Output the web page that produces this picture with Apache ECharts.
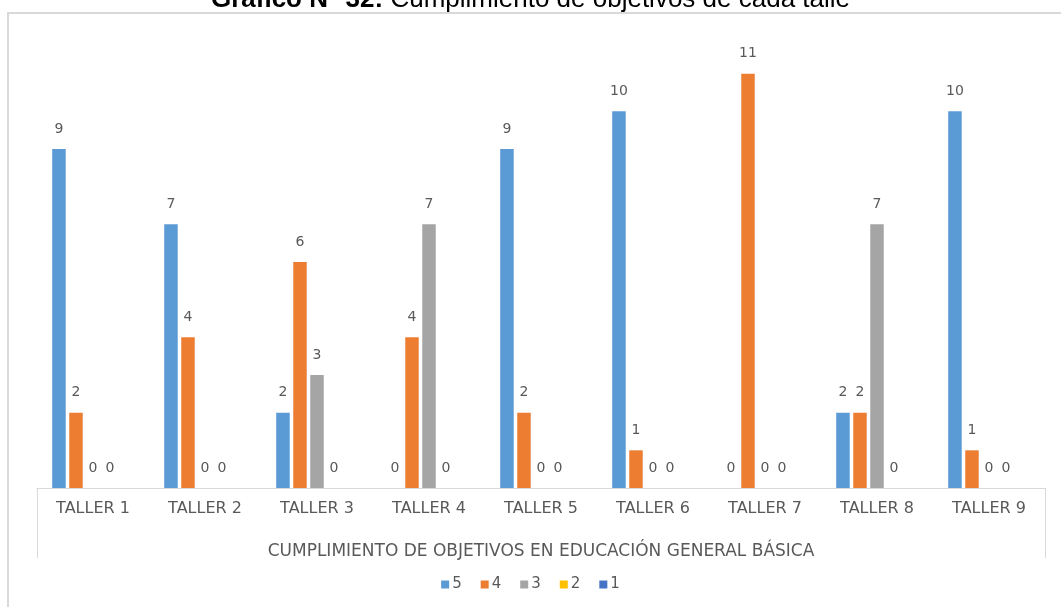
<!DOCTYPE html>
<html>
<head>
<meta charset="utf-8">
<title>Cumplimiento de objetivos de cada taller</title>
<script src="https://cdn.jsdelivr.net/npm/echarts@6/dist/echarts.min.js"></script>
<style>
  html, body { margin: 0; padding: 0; background: #fff; }
  #chart { width: 1061px; height: 607px; }
</style>
</head>
<body>
<div id="chart"></div>
<script>
// categorías (talleres)
const talleres = ['TALLER 1', 'TALLER 2', 'TALLER 3', 'TALLER 4', 'TALLER 5', 'TALLER 6', 'TALLER 7', 'TALLER 8', 'TALLER 9'];

// valores por nivel de cumplimiento
const nivel5 = [9, 7, 2, 0, 9, 10, 0, 2, 10];
const nivel4 = [2, 4, 6, 4, 2, 1, 11, 2, 1];
const nivel3 = [0, 0, 3, 7, 0, 0, 0, 7, 0];
const nivel2 = [0, 0, 0, 0, 0, 0, 0, 0, 0];
const nivel1 = [0, 0, 0, 0, 0, 0, 0, 0, 0];

const seriesNames = ['5', '4', '3', '2', '1'];
const seriesData = [nivel5, nivel4, nivel3, nivel2, nivel1];
const colores = ['#5B9BD5', '#ED7D31', '#A5A5A5', '#FFC000', '#4472C4'];
const showLabel = [true, true, true, true, false]; // la serie 1 no lleva etiquetas

let chartDom = document.getElementById('chart');
let myChart = echarts.init(chartDom);
let option;

option = {
  animation: false,
  textStyle: { fontFamily: 'DejaVu Sans' },
  title: {
    text: '{b|Gráfico N° 32:} Cumplimiento de objetivos de cada talle',
    left: 'center',
    top: -13,
    padding: 0,
    textStyle: {
      fontFamily: 'Liberation Sans',
      fontSize: 26,
      fontWeight: 'normal',
      color: '#000',
      rich: {
        b: { fontFamily: 'Liberation Sans', fontSize: 26, fontWeight: 'bold', color: '#000' }
      }
    }
  },
  legend: {
    bottom: 10,
    left: 'center',
    itemWidth: 8,
    itemHeight: 8,
    itemGap: 19,
    icon: 'rect',
    textStyle: { fontFamily: 'DejaVu Sans', fontSize: 15, color: '#595959', padding: [0, 0, 0, -2] },
    data: seriesNames
  },
  grid: {
    left: 37,
    right: 16,
    top: 36,
    bottom: 119
  },
  xAxis: {
    type: 'category',
    data: talleres,
    name: 'CUMPLIMIENTO DE OBJETIVOS EN EDUCACIÓN GENERAL BÁSICA',
    nameLocation: 'middle',
    nameGap: 55,
    nameTextStyle: { fontFamily: 'DejaVu Sans', fontSize: 17, color: '#595959' },
    axisLine: { lineStyle: { color: '#D9D9D9', width: 1 } },
    axisTick: { show: false },
    axisLabel: { fontFamily: 'DejaVu Sans', fontSize: 16, color: '#595959', margin: 13 }
  },
  yAxis: {
    type: 'value',
    min: 0,
    max: 12,
    show: false,
    splitLine: { show: false }
  },
  graphic: [
    // marco exterior
    {
      type: 'rect',
      shape: { x: 8, y: 13, width: 1070, height: 620 },
      style: { fill: 'none', stroke: '#D9D9D9', lineWidth: 2 },
      silent: true
    },
    // bordes laterales del eje de categorías
    {
      type: 'line',
      shape: { x1: 37.5, y1: 488, x2: 37.5, y2: 558 },
      style: { stroke: '#D9D9D9', lineWidth: 1 },
      silent: true
    },
    {
      type: 'line',
      shape: { x1: 1045.5, y1: 488, x2: 1045.5, y2: 558 },
      style: { stroke: '#D9D9D9', lineWidth: 1 },
      silent: true
    }
  ],
  series: seriesNames.map((name, i) => ({
    name: name,
    type: 'bar',
    data: seriesData[i],
    barWidth: 13.5,
    barGap: '26%',
    itemStyle: { color: colores[i] },
    label: {
      show: showLabel[i],
      position: 'top',
      distance: 13,
      fontFamily: 'DejaVu Sans',
      fontSize: 14,
      color: '#595959'
    }
  }))
};

option && myChart.setOption(option);
</script>
</body>
</html>
